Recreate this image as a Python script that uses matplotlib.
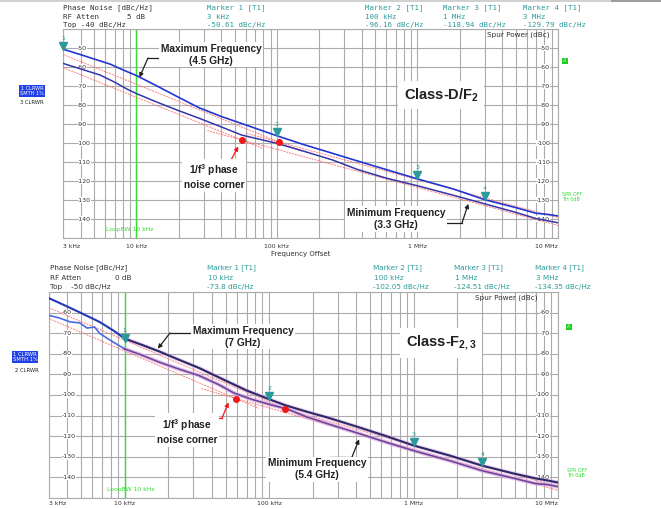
import numpy as np
import matplotlib.pyplot as plt
import matplotlib.transforms as mtransforms
from matplotlib.lines import Line2D
from matplotlib.ticker import LogLocator, MultipleLocator, NullFormatter

plt.rcParams['font.family'] = 'DejaVu Sans'
plt.rcParams['mathtext.fontset'] = 'custom'
plt.rcParams['mathtext.rm'] = 'Liberation Sans'
plt.rcParams['mathtext.bf'] = 'Liberation Sans:bold'

W, H = 661, 508

# ---------------- top panel: Class-D/F2 ----------------
top_max_f = [3e3, 4e3, 5e3, 6.5e3, 8e3, 1e4, 1.4e4, 2e4, 2.8e4, 4e4, 6e4, 1e5, 1.5e5,
             2.5e5, 3.76e5, 6e5, 1e6, 1.8e6, 3e6, 5e6, 7e6, 8.5e6, 1e7]
top_max_db = [-50.6, -53.5, -55.8, -58.5, -61.5, -64.5, -70, -76, -81.5, -86, -90.5, -96.2, -100.5,
              -105.5, -109.5, -114, -118.9, -124.2, -129.8, -134, -137, -137.6, -138.4]
top_min_f = [3e3, 4e3, 5.5e3, 7e3, 8.5e3, 1e4, 1.4e4, 2e4, 2.8e4, 4e4, 5.6e4, 8e4, 1e5, 1.5e5,
             2.5e5, 3.76e5, 6e5, 1e6, 1.8e6, 3e6, 5e6, 7e6, 8.5e6, 1e7]
top_min_db = [-58.1, -61, -64.2, -68, -71.5, -74, -78.5, -83, -87, -91.5, -95.8, -98.5, -100.2, -104,
              -109, -114, -118.5, -122.5, -127.5, -132, -136.5, -139.8, -141, -142]
# asymptote segments (1/f^3 and 1/f^2)
top_asym = [
    ([3e3, 1.5e5], [-53.4, -104.4]),
    ([6e4, 1e7], [-94.8, -139.3]),
    ([3e3, 8e4], [-60.3, -103.0]),
    ([3.2e4, 1e7], [-93.5, -143.4]),
]
top_corner_f = [5.6e4, 1.04e5]
top_corner_db = [-98.4, -99.6]
top_mark_f = [3e3, 1e5, 1e6, 3e6]
top_mark_db = [-50.61, -96.16, -118.94, -129.79]
top_mark_lbl = ['3 kHz', '100 kHz', '1 MHz', '3 MHz']

# ---------------- bottom panel: Class-F2,3 ----------------
bot_max_f = [3e3, 4e3, 5e3, 6.7e3, 8.5e3, 1e4, 1.3e4, 1.73e4, 2.4e4, 3.26e4, 5e4, 7e4, 1e5, 1.3e5,
             1.8e5, 2.56e5, 4.11e5, 6.5e5, 1e6, 1.8e6, 3e6, 5e6, 7e6, 8.5e6, 1e7]
bot_max_db = [-53, -57, -60.2, -64.5, -69, -72.6, -75.5, -78.8, -83, -86.8, -93, -97.8, -102.05, -105,
              -108, -111, -115.5, -120, -124.5, -129.5, -134.35, -138.2, -140.5, -141.5, -142.5]
bot_min_f = [3e3, 3.5e3, 4.2e3, 4.9e3, 5.5e3, 6.2e3, 6.7e3, 8e3, 1e4, 1.3e4, 1.73e4, 2.4e4, 3.26e4,
             4.5e4, 5.7e4, 7.5e4, 1e5, 1.36e5, 1.8e5, 2.56e5, 4.11e5, 6.5e5, 1e6, 1.8e6, 3e6, 5e6,
             7e6, 8.5e6, 1e7]
bot_min_db = [-61.4, -62.5, -64.5, -65, -67.5, -67, -70, -73.5, -77.6, -80.5, -84, -87.5, -90.5,
              -95, -99, -102, -104.5, -107, -110.5, -114, -118.5, -123, -127, -132, -136.8, -140.5,
              -143, -143.5, -144.5]
bot_asym = [
    ([3e3, 1.9e5], [-57.7, -111.7]),
    ([7.5e4, 1e7], [-102.0, -144.5]),
    ([3e3, 8.5e4], [-62.9, -106.5]),
    ([3.4e4, 1e7], [-96.9, -146.3]),
]
bot_corner_f = [5.9e4, 1.3e5]
bot_corner_db = [-101.7, -106.8]
bot_mark_f = [1e4, 1e5, 1e6, 3e6]
bot_mark_db = [-73.8, -102.05, -124.51, -134.35]
bot_mark_lbl = ['10 kHz', '100 kHz', '1 MHz', '3 MHz']

xtick_f = [3e3, 1e4, 1e5, 1e6, 1e7]
xtick_lbl = ['3 kHz', '10 kHz', '100 kHz', '1 MHz', '10 MHz']

GRID = '#ababab'
TEAL = '#2a9a9a'
RED = '#f01818'
GREEN = '#33dd33'


def fxy(px, py):
    return px / W, 1 - py / H


def ftext(px, py, s, **kw):
    x, y = fxy(px, py)
    return fig.text(x, y, s, **kw)


def fline(pts, **kw):
    xs = [p[0] / W for p in pts]
    ys = [1 - p[1] / H for p in pts]
    fig.add_artist(Line2D(xs, ys, transform=fig.transFigure, **kw))


def setup(ax, top):
    ax.set_xscale('log')
    ax.set_xlim(3e3, 1e7)
    ax.set_ylim(-150, top)
    ax.xaxis.set_major_locator(LogLocator(base=10, numticks=12))
    ax.xaxis.set_minor_locator(LogLocator(base=10, subs=np.arange(2, 10), numticks=12))
    ax.xaxis.set_minor_formatter(NullFormatter())
    ax.yaxis.set_major_locator(MultipleLocator(10))
    ax.grid(True, which='both', axis='both', color=GRID, lw=0.8)
    ax.tick_params(which='both', length=0, labelbottom=False, labelleft=False)
    for s in ax.spines.values():
        s.set_color(GRID)
        s.set_linewidth(0.8)
    ax.axvline(1e4, color=GREEN, lw=1.0, zorder=2)


def ylabels(ax, vals, xl, xr):
    tr = mtransforms.blended_transform_factory(ax.transAxes, ax.transData)
    for v in vals:
        ax.text(xl, v, str(v), transform=tr, ha='left', va='center', fontsize=4.5,
                color='#303030', zorder=3,
                bbox=dict(facecolor='white', edgecolor='none', pad=0.2))
        ax.text(xr, v, str(v), transform=tr, ha='right', va='center', fontsize=4.5,
                color='#303030', zorder=3,
                bbox=dict(facecolor='white', edgecolor='none', pad=0.2))


def xlabels(ax, dy):
    for i, (f, s) in enumerate(zip(xtick_f, xtick_lbl)):
        ha = 'left' if i == 0 else ('right' if i == len(xtick_f) - 1 else 'center')
        ax.annotate(s, xy=(f, 0), xycoords=('data', 'axes fraction'), xytext=(0, -dy),
                    textcoords='offset pixels', ha=ha, va='center', fontsize=4.4,
                    color='#303030', annotation_clip=False)


def markers(ax, fs, dbs):
    off = mtransforms.offset_copy(ax.transData, fig=fig, x=0, y=3.5, units='dots')
    off2 = mtransforms.offset_copy(ax.transData, fig=fig, x=0, y=11, units='dots')
    ax.plot(fs, dbs, 'v', color=TEAL, ms=5.5, transform=off, clip_on=False, zorder=6)
    for i, (f, d) in enumerate(zip(fs, dbs)):
        ax.text(f, d, str(i + 1), transform=off2, ha='center', va='center',
                fontsize=4.5, color=TEAL, zorder=6, clip_on=False)


def arrow(ax, pts, tip, color, lw=0.9):
    fline(pts, color=color, lw=lw, zorder=7)
    ax.annotate('', xy=tip, xycoords='data', xytext=fxy(*pts[-1]),
                textcoords='figure fraction',
                arrowprops=dict(arrowstyle='-|>', color=color, lw=lw,
                                mutation_scale=6, shrinkA=0, shrinkB=0),
                zorder=7, annotation_clip=False)


fig = plt.figure(figsize=(W / 100, H / 100), dpi=100)
fline([(0, 1), (612, 1)], color='#c8c8c8', lw=1.2)
fline([(612, 1), (661, 1)], color='#8a8a8a', lw=1.2)

# ================= top panel =================
ax1 = fig.add_axes([63 / W, 1 - 238 / H, 495 / W, 209 / H])
setup(ax1, -40)
ylabels(ax1, list(range(-50, -141, -10)), 0.028, 0.984)
xlabels(ax1, 8)

for f, v in top_asym:
    ax1.plot(f, v, color='#ff6a6a', lw=0.7, ls=(0, (2, 1)), alpha=0.85, zorder=3)
ax1.plot(top_min_f, top_min_db, color='#3535a8', lw=1.1, zorder=4)
ax1.plot(top_max_f, top_max_db, color='#2036d0', lw=1.2, zorder=4)
ax1.plot(top_corner_f, top_corner_db, 'o', color=RED, ms=4, zorder=5)
markers(ax1, top_mark_f, top_mark_db)

ftext(301, 254, 'Frequency Offset', ha='center', va='center', fontsize=5, color='#303030')
ftext(518, 35, 'Spur Power (dBc)', ha='center', va='center', fontsize=5.2, color='#303030')
ftext(106, 229, 'LoopBW 10 kHz', ha='left', va='center', fontsize=4.4, color=GREEN)

mono = dict(family='DejaVu Sans Mono', fontsize=5.3, va='center', ha='left')
ftext(63, 8, 'Phase Noise [dBc/Hz]', color='#303030', **mono)
ftext(63, 17, 'RF Atten', color='#303030', **mono)
ftext(127, 17, '5 dB', color='#303030', **mono)
ftext(63, 25, 'Top -40 dBc/Hz', color='#303030', **mono)
for i, (px, fl, db) in enumerate(zip([207, 365, 443, 523], top_mark_lbl, top_mark_db)):
    ftext(px, 8, f'Marker {i + 1} [T1]', color=TEAL, **mono)
    ftext(px, 17, fl, color=TEAL, **mono)
    ftext(px, 25, f'{db:.2f} dBc/Hz', color=TEAL, **mono)

ftext(32, 91, '1 CLRWR\nSMTH 1%', ha='center', va='center', fontsize=3.6, color='white',
      linespacing=0.9, bbox=dict(facecolor='#2040e8', edgecolor='none', pad=0.6))
ftext(32, 103, '3 CLRWR', ha='center', va='center', fontsize=3.8, color='#202020')
ftext(565, 61, 'A', ha='center', va='center', fontsize=3.5, color='#c0ffc0',
      bbox=dict(facecolor='#22cc22', edgecolor='none', pad=0.6))
ftext(562, 197, 'SPR OFF\nTH 0dB', ha='left', va='center', fontsize=3.5, color=GREEN,
      linespacing=1.0)

bold = dict(family='Liberation Sans', fontweight='bold', color='#202020', ha='center',
            va='center', zorder=8)
wbox = dict(facecolor='white', edgecolor='none', pad=1.2)
ftext(211, 54.5, 'Maximum Frequency\n(4.5 GHz)', fontsize=7.3, linespacing=1.25, bbox=wbox, **bold)
arrow(ax1, [(158, 58), (148, 58)], (1.05e4, -65.5), '#202020')
ftext(396, 219, 'Minimum Frequency\n(3.3 GHz)', fontsize=7.3, linespacing=1.25, bbox=wbox, **bold)
arrow(ax1, [(437, 223), (462, 223)], (2.3e6, -132), '#202020')
ftext(214, 176.5, '1/f$^\\mathbf{3}$ phase\nnoise corner', fontsize=7.3, linespacing=1.25,
      bbox=wbox, **bold)
arrow(ax1, [(205, 162), (230, 162)], (5.3e4, -101.8), RED)
ftext(441, 95, 'Class-D/F$_\\mathbf{2}$', fontsize=10.5,
      bbox=dict(facecolor='white', edgecolor='none', pad=4), **bold)

# ================= bottom panel =================
ax2 = fig.add_axes([49 / W, 1 - 498 / H, 509 / W, 206 / H])
setup(ax2, -50)
ylabels(ax2, list(range(-60, -141, -10)), 0.0255, 0.984)
xlabels(ax2, 5.5)

for f, v in bot_asym:
    ax2.plot(f, v, color='#ff6a6a', lw=0.7, ls=(0, (2, 1)), alpha=0.85, zorder=3)
fmin = np.array(bot_min_f)
vmin = np.array(bot_min_db)
fmax = np.array(bot_max_f)
vmax = np.array(bot_max_db)
ax2.plot(fmin[fmin >= 1e4], vmin[fmin >= 1e4], color='#e2a8e6', lw=3.0, alpha=0.7, zorder=3)
ax2.plot(fmax[fmax >= 1e4], vmax[fmax >= 1e4], color='#e2a8e6', lw=3.0, alpha=0.5, zorder=3)
ax2.plot(fmin[fmin <= 1e4], vmin[fmin <= 1e4], color='#4a6ae0', lw=1.2, zorder=4)
ax2.plot(fmin[fmin >= 1e4], vmin[fmin >= 1e4], color='#6a4a98', lw=1.2, zorder=4)
ax2.plot(fmax[fmax <= 1e4], vmax[fmax <= 1e4], color='#2438b8', lw=1.5, zorder=4)
ax2.plot(fmax[fmax >= 1e4], vmax[fmax >= 1e4], color='#2a2a66', lw=1.5, zorder=4)
ax2.plot(bot_corner_f, bot_corner_db, 'o', color=RED, ms=4, zorder=5)
markers(ax2, bot_mark_f, bot_mark_db)

ftext(506, 298, 'Spur Power (dBc)', ha='center', va='center', fontsize=5.2, color='#303030')
ftext(107, 490, 'LoopBW 10 kHz', ha='left', va='center', fontsize=4.4, color=GREEN)

sans = dict(fontsize=5.2, va='center', ha='left')
ftext(50, 268, 'Phase Noise [dBc/Hz]', color='#303030', **sans)
ftext(50, 278, 'RF Atten', color='#303030', **sans)
ftext(115, 278, '0 dB', color='#303030', **sans)
ftext(50, 287, 'Top    -50 dBc/Hz', color='#303030', **sans)
for i, (px, fl, db) in enumerate(zip([207, 373, 454, 535], bot_mark_lbl, bot_mark_db)):
    ftext(px, 268, f'Marker {i + 1} [T1]', color=TEAL, **sans)
    ftext(px + 1, 278, fl, color=TEAL, **sans)
    ftext(px, 287, f'{db:g} dBc/Hz', color=TEAL, **sans)

ftext(25, 357, '1 CLRWR\nSMTH 1%', ha='center', va='center', fontsize=3.8, color='white',
      linespacing=0.9, bbox=dict(facecolor='#2040e8', edgecolor='none', pad=0.6))
ftext(27, 371, '2 CLRWR', ha='center', va='center', fontsize=3.8, color='#202020')
ftext(569, 327, 'A', ha='center', va='center', fontsize=3.5, color='#c0ffc0',
      bbox=dict(facecolor='#22cc22', edgecolor='none', pad=0.6))
ftext(567, 473, 'SPR OFF\nTH 0dB', ha='left', va='center', fontsize=3.5, color=GREEN,
      linespacing=1.0)

ftext(243, 336.5, 'Maximum Frequency\n(7 GHz)', fontsize=7.3, linespacing=1.25, bbox=wbox, **bold)
arrow(ax2, [(193, 333), (170, 333)], (1.7e4, -77.5), '#202020')
ftext(317, 469.5, 'Minimum Frequency\n(5.4 GHz)', fontsize=7.3, linespacing=1.25, bbox=wbox, **bold)
arrow(ax2, [(330, 457), (352, 457)], (4.2e5, -121.5), '#202020')
ftext(187, 431, '1/f$^\\mathbf{3}$ phase\nnoise corner', fontsize=7.3, linespacing=1.25,
      bbox=wbox, **bold)
arrow(ax2, [(193, 418), (222, 418)], (5.25e4, -103.6), RED)
ftext(441, 343, 'Class-F$_\\mathbf{2,3}$', fontsize=10.5,
      bbox=dict(facecolor='white', edgecolor='none', pad=4), **bold)

fig.savefig('out.png', dpi=100)
